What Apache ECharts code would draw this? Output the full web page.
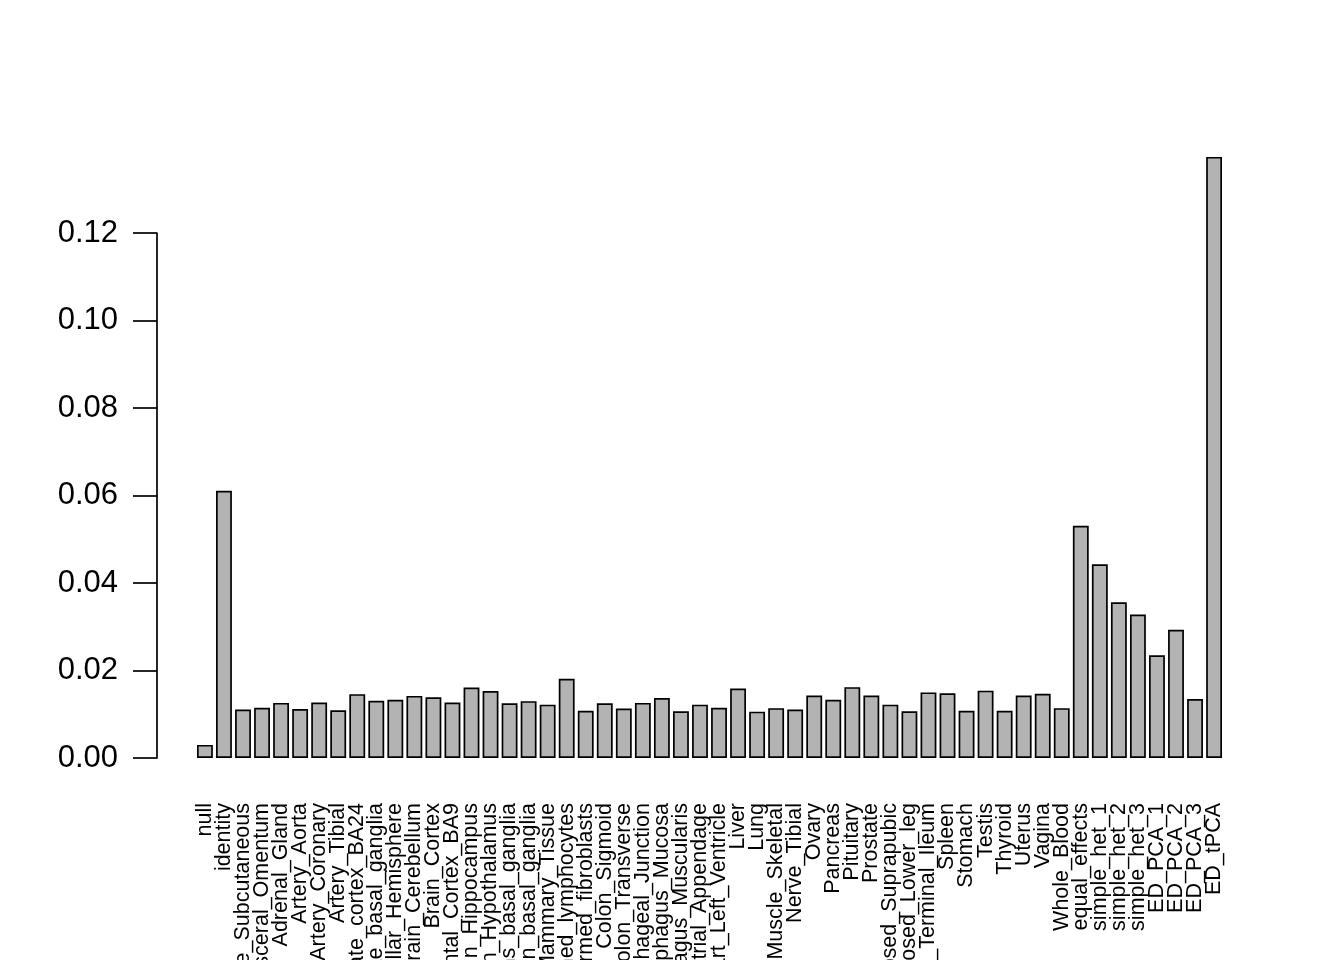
<!DOCTYPE html>
<html>
<head>
<meta charset="utf-8">
<script src="https://cdn.jsdelivr.net/npm/echarts@6/dist/echarts.min.js"></script>
<style>
html,body{margin:0;padding:0;background:#fff;}
#chart{width:1344px;height:960px;}
</style>
</head>
<body>
<div id="chart"></div>
<script>
const categories = [
  "null","identity","Adipose_Subcutaneous","Adipose_Visceral_Omentum","Adrenal_Gland",
  "Artery_Aorta","Artery_Coronary","Artery_Tibial","Brain_Anterior_cingulate_cortex_BA24",
  "Brain_Caudate_basal_ganglia","Brain_Cerebellar_Hemisphere","Brain_Cerebellum","Brain_Cortex",
  "Brain_Frontal_Cortex_BA9","Brain_Hippocampus","Brain_Hypothalamus",
  "Brain_Nucleus_accumbens_basal_ganglia","Brain_Putamen_basal_ganglia","Breast_Mammary_Tissue",
  "Cells_EBV-transformed_lymphocytes","Cells_Transformed_fibroblasts","Colon_Sigmoid",
  "Colon_Transverse","Esophagus_Gastroesophageal_Junction","Esophagus_Mucosa",
  "Esophagus_Muscularis","Heart_Atrial_Appendage","Heart_Left_Ventricle","Liver","Lung",
  "Muscle_Skeletal","Nerve_Tibial","Ovary","Pancreas","Pituitary","Prostate",
  "Skin_Not_Sun_Exposed_Suprapubic","Skin_Sun_Exposed_Lower_leg","Small_Intestine_Terminal_Ileum",
  "Spleen","Stomach","Testis","Thyroid","Uterus","Vagina","Whole_Blood","equal_effects",
  "simple_het_1","simple_het_2","simple_het_3","ED_PCA_1","ED_PCA_2","ED_PCA_3","ED_tPCA"
];
const values = [
  0.0030, 0.0611, 0.0111, 0.0115, 0.0126, 0.0112, 0.0127, 0.0109, 0.0146,
  0.0131, 0.0133, 0.0142, 0.0139, 0.0127, 0.0161, 0.0153,
  0.0125, 0.0130, 0.0122,
  0.0181, 0.0108, 0.0125,
  0.0113, 0.0126, 0.0137,
  0.0107, 0.0122, 0.0115, 0.0159, 0.0106,
  0.0114, 0.0111, 0.0143, 0.0133, 0.0162, 0.0143,
  0.0122, 0.0107, 0.0150,
  0.0148, 0.0108, 0.0154, 0.0108, 0.0143, 0.0147, 0.0114, 0.0531,
  0.0443, 0.0356, 0.0328, 0.0235, 0.0293, 0.0135, 0.1374
];
const yTickLabels = ["0.00","0.02","0.04","0.06","0.08","0.10","0.12"];

const FONT = "'Liberation Sans', Arial, Helvetica, sans-serif";
const chart = echarts.init(document.getElementById('chart'), null, {renderer: 'canvas'});
chart.setOption({
  backgroundColor: '#ffffff',
  animation: false,
  grid: {left: 195.4, right: 120.4, top: 233, bottom: 202, containLabel: false, outerBoundsMode: 'none'},
  xAxis: {
    type: 'category',
    data: categories,
    boundaryGap: true,
    axisLine: {show: false},
    axisTick: {show: false},
    axisLabel: {
      interval: 0,
      rotate: 90,
      margin: 45,
      color: '#000',
      fontFamily: FONT,
      fontSize: 21.5
    },
    splitLine: {show: false}
  },
  yAxis: {
    type: 'value',
    min: 0,
    max: 0.12,
    interval: 0.02,
    offset: 38.4,
    axisLine: {show: true, lineStyle: {color: '#000', width: 1.7}},
    axisTick: {show: true, length: 24, lineStyle: {color: '#000', width: 1.7}},
    axisLabel: {
      margin: 39,
      color: '#000',
      fontFamily: FONT,
      fontSize: 31,
      formatter: function (v) {
        const i = Math.round(v / 0.02);
        return yTickLabels[i] !== undefined ? yTickLabels[i] : v.toFixed(2);
      }
    },
    splitLine: {show: false}
  },
  series: [{
    type: 'bar',
    data: values,
    barWidth: '83.33%',
    clip: false,
    itemStyle: {color: '#b3b3b3', borderColor: '#000', borderWidth: 1.7},
    emphasis: {disabled: true}
  }]
});
</script>
</body>
</html>
